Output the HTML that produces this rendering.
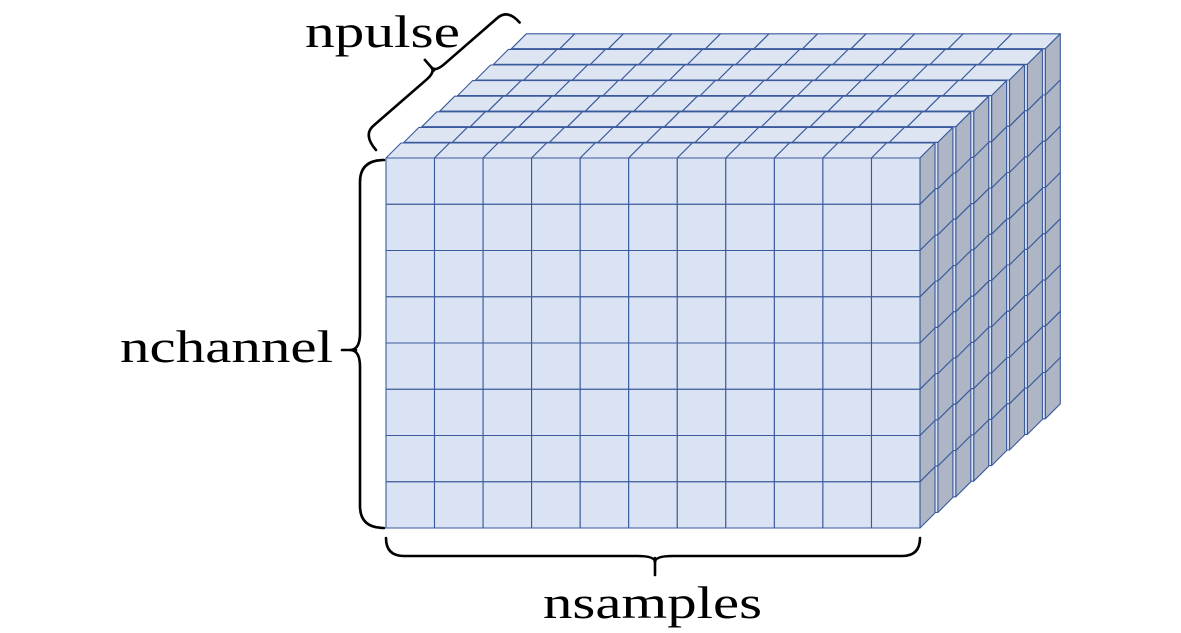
<!DOCTYPE html>
<html><head><meta charset="utf-8"><style>
html,body{margin:0;padding:0;background:#fff;}
svg{display:block}
text{font-family:"Liberation Serif",serif;font-size:46px;fill:#000}
</style></head><body>
<svg id="s" width="1181" height="633" viewBox="0 0 1181 633" xmlns="http://www.w3.org/2000/svg">
<g id="cube"></g>
<g fill="none" stroke="#000" stroke-width="2.6" stroke-linecap="round">
<path d="M386,538 Q386,556 404,556 L637,556 Q655,556 655,562 M655,562 Q655,556 673,556 L902,556 Q920,556 920,538"/>
<path d="M655,558 L655,575"/>
<path d="M384,160 Q360,160 360,182 L360,333 Q360,350 350,350 Q360,350 360,367 L360,506 Q360,528 384,528"/>
<path d="M342,350 L356,350"/>
<g transform="translate(376,150) rotate(-41)">
<path d="M0,0 Q0,-20 14,-20 L84,-20 Q96,-20 96,-26 Q96,-20 108,-20 L178,-20 Q192,-20 192,-2"/>
<path d="M96,-22 L96,-36"/>
</g>
</g>
<text x="305" y="47" textLength="155" lengthAdjust="spacingAndGlyphs">npulse</text>
<text x="120" y="362" textLength="213" lengthAdjust="spacingAndGlyphs">nchannel</text>
<text x="543" y="618" textLength="219" lengthAdjust="spacingAndGlyphs">nsamples</text>
</svg>
<script>
(function(){
var g=document.getElementById('cube');
var x0=386,y0=158,W=534,H=370,C=11,R=8,L=8;
var cw=W/C,ch=H/R,ddx=15,ddy=-15,sx=17.9,sy=-15.6;
var stroke='#3a5a9c',front='#dae3f3',side='#aeb6c6',top='#dde5f3';
var out='';
function poly(pts,fill){out+='<polygon points="'+pts.map(function(p){return p[0].toFixed(1)+','+p[1].toFixed(1)}).join(' ')+'" fill="'+fill+'" stroke="'+stroke+'" stroke-width="1.1" stroke-linejoin="round"/>';}
for(var k=L-1;k>=0;k--){
  var ox=x0+k*sx,oy=y0+k*sy;
  for(var c=0;c<C;c++){
    var a=ox+c*cw,b=ox+(c+1)*cw;
    poly([[a,oy],[b,oy],[b+ddx,oy+ddy],[a+ddx,oy+ddy]],top);
  }
  for(var r=0;r<R;r++){
    var xr=ox+W,ya=oy+r*ch,yb=oy+(r+1)*ch;
    poly([[xr,ya],[xr+ddx,ya+ddy],[xr+ddx,yb+ddy],[xr,yb]],side);
  }
  for(var r=0;r<R;r++)for(var c=0;c<C;c++){
    var a=ox+c*cw,ya=oy+r*ch;
    poly([[a,ya],[a+cw,ya],[a+cw,ya+ch],[a,ya+ch]],front);
  }
}
g.innerHTML=out;
})();
</script>
</body></html>
